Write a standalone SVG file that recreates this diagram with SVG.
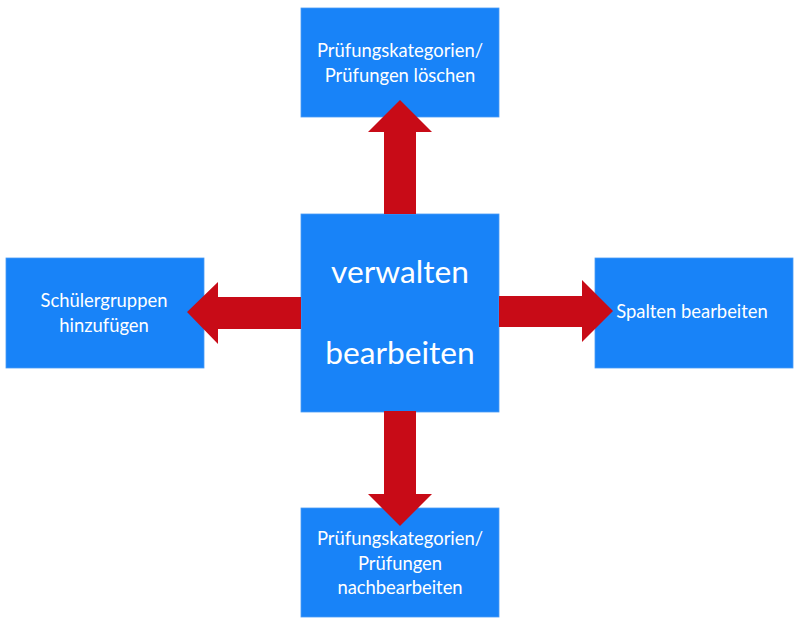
<svg xmlns="http://www.w3.org/2000/svg" width="800" height="628" viewBox="0 0 800 628">
<style>
.box{fill:#1883f8;stroke:#4a9cf5;stroke-width:0.8}
.arrow{fill:#c80b17}
.t{font-family:Lato,"Open Sans","Liberation Sans",sans-serif;fill:#ffffff;text-anchor:middle;font-size:18.4px}
.big{font-size:31.7px}
</style>
<rect width="800" height="628" fill="#ffffff"/>
<g id="center">
<rect class="box" x="301" y="214" width="198" height="198"/>
<text class="t big" x="400" y="283">verwalten</text>
<text class="t big" x="400" y="364">bearbeiten</text>
</g>
<g id="top">
<rect class="box" x="301" y="8" width="198" height="109"/>
<text class="t" x="400" y="57">Prüfungskategorien/</text>
<text class="t" x="400" y="82">Prüfungen löschen</text>
</g>
<g id="left">
<rect class="box" x="6" y="258" width="198" height="110"/>
<text class="t" x="104" y="307">Schülergruppen</text>
<text class="t" x="104" y="332">hinzufügen</text>
</g>
<g id="right">
<rect class="box" x="595" y="258" width="198" height="110"/>
<text class="t" x="692" y="318">Spalten bearbeiten</text>
</g>
<g id="bottom">
<rect class="box" x="301" y="508" width="198" height="109"/>
<text class="t" x="400" y="545">Prüfungskategorien/</text>
<text class="t" x="400" y="570">Prüfungen</text>
<text class="t" x="400" y="594">nachbearbeiten</text>
</g>
<g id="connectors">
<polygon class="arrow" points="384,214 384,132 368,132 400,100 432,132 416,132 416,214"/>
<polygon class="arrow" points="301,297 218,297 218,282 187,312 218,344 218,329 301,329"/>
<polygon class="arrow" points="499,296 582,296 582,280 613,311 582,342 582,327 499,327"/>
<polygon class="arrow" points="384,411 384,494 368,494 400,526 432,494 416,494 416,411"/>
</g>
</svg>
